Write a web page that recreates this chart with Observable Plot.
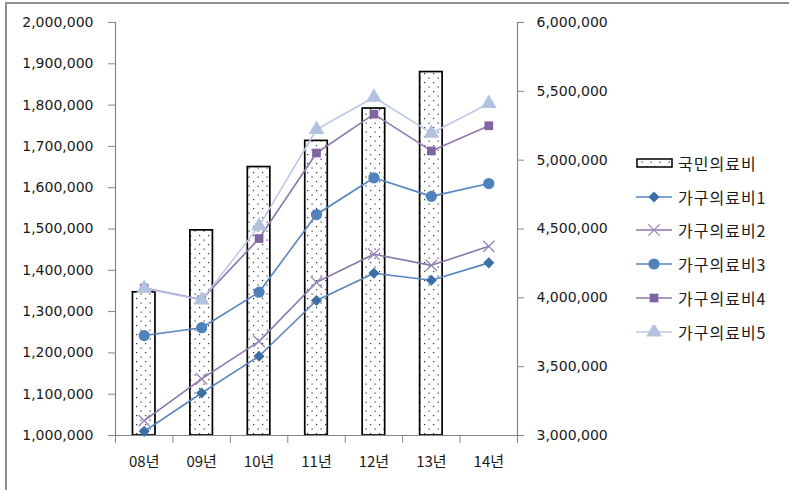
<!DOCTYPE html>
<html>
<head>
<meta charset="utf-8">
<script src="https://cdn.jsdelivr.net/npm/d3@7"></script>
<script src="https://cdn.jsdelivr.net/npm/@observablehq/plot@0.6"></script>
<style>
  html, body { margin: 0; padding: 0; background: #fff; }
  #chart { position: relative; width: 789px; height: 490px; overflow: hidden; }
  #chart > svg { position: absolute; left: 0; top: 0; }
  #frame { position: absolute; left: 5px; top: 2px; right: -4px; bottom: -4px;
           border-top: 2px solid #8f8f8f; border-left: 2px solid #8f8f8f; pointer-events: none; }
  #legend { position: absolute; left: 636px; top: 146px; font-family: "Noto Sans CJK KR", sans-serif;
            font-size: 16px; letter-spacing: 1px; color: #1a1a1a; }
  .item { display: flex; align-items: center; height: 33.8px; }
  .item svg { margin-right: 4px; }
</style>
</head>
<body>
<div id="chart"><div id="frame"></div><div id="legend"></div></div>
<script>
// Years on the category axis
const years = ["08년", "09년", "10년", "11년", "12년", "13년", "14년"];

// 국민의료비 (bars, secondary axis); no bar for 14년
const nationalCost = [4040000, 4490000, 4950000, 5140000, 5375000, 5640000, null];

// 가구의료비 1–5 (lines, primary axis)
const household1 = [1010000, 1103000, 1192000, 1327000, 1393000, 1376000, 1418000];
const household2 = [1036000, 1137000, 1228000, 1371000, 1439000, 1412000, 1458000];
const household3 = [1242000, 1261000, 1347000, 1535000, 1624000, 1579000, 1610000];
const household4 = [1357000, 1329000, 1477000, 1684000, 1778000, 1689000, 1750000];
const household5 = [1356000, 1328000, 1507000, 1741000, 1819000, 1732000, 1804000];

// Axis ticks
const primaryTicks = d3.range(1000000, 2000001, 100000);
const secondaryTicks = d3.range(3000000, 6000001, 500000);

// Primary axis spans 1,000,000–2,000,000, secondary 3,000,000–6,000,000
const toPrimary = v => 1000000 + (v - 3000000) / 3;
const toSecondary = v => 3000000 + (v - 1000000) * 3;

const seriesStyle = [
  {name: "가구의료비1", values: household1, line: "#5584bf", mark: "#3d6ea8", symbol: "diamond2", r: 5.0, hollow: false},
  {name: "가구의료비2", values: household2, line: "#8c77ad", mark: "#9886ba", symbol: "times", r: 5.2, hollow: true},
  {name: "가구의료비3", values: household3, line: "#5585bf", mark: "#4f81bd", symbol: "circle", r: 5.6, hollow: false},
  {name: "가구의료비4", values: household4, line: "#8f78b0", mark: "#8064a2", symbol: "square", r: 4.9, hollow: false},
  {name: "가구의료비5", values: household5, line: "#bccae6", mark: "#b2c2e1", symbol: "triangle", r: 5.8, hollow: false}
];

const barRows = years.map((y, i) => ({i, year: y, value: nationalCost[i]})).filter(d => d.value != null);
const BAR_HALF = 0.196; // half bar width, in category units

const lineMarks = seriesStyle.flatMap(s => {
  const rows = s.values.map((v, i) => ({x: i + 0.5, y: v}));
  return [
    Plot.line(rows, {x: "x", y: "y", stroke: s.line, strokeWidth: 1.6}),
    s.hollow
      ? Plot.dot(rows, {x: "x", y: "y", symbol: s.symbol, r: s.r, stroke: s.mark, strokeWidth: 1.3})
      : Plot.dot(rows, {x: "x", y: "y", symbol: s.symbol, r: s.r, fill: s.mark, stroke: "none"})
  ];
});

const chart = Plot.plot({
  width: 789,
  height: 490,
  marginLeft: 115,
  marginRight: 272,
  marginTop: 22,
  marginBottom: 55,
  style: {fontFamily: "'DejaVu Sans', 'Noto Sans CJK KR', sans-serif", fontSize: "14px", background: "transparent"},
  x: {type: "linear", domain: [0, 7]},
  y: {domain: [1000000, 2000000]},
  marks: [
    Plot.rectY(barRows, {
      x1: d => d.i + 0.5 - BAR_HALF,
      x2: d => d.i + 0.5 + BAR_HALF,
      y1: 1000000,
      y2: d => toPrimary(d.value),
      fill: "url(#dots)",
      stroke: "#000",
      strokeWidth: 1.7
    }),
    Plot.ruleY([1000000], {stroke: "#868686", strokeWidth: 1.2}),
    Plot.ruleX([0, 7], {stroke: "#868686", strokeWidth: 1.2}),
    Plot.axisY({anchor: "left", label: null, ticks: primaryTicks, tickSize: 7, tickPadding: 15,
      tickFormat: d3.format(","), stroke: "#868686", fill: "#1a1a1a"}),
    Plot.axisY({anchor: "right", label: null, ticks: secondaryTicks.map(toPrimary), tickSize: 6, tickPadding: 13,
      tickFormat: v => d3.format(",")(Math.round(toSecondary(v) / 1000) * 1000), stroke: "#868686", fill: "#1a1a1a"}),
    Plot.axisX({label: null, ticks: d3.range(0, 8), tickSize: 8, tickFormat: () => "", stroke: "#868686"}),
    Plot.axisX({label: null, ticks: years.map((_, i) => i + 0.5), tickSize: 0, tickPadding: 21,
      tickFormat: v => years[Math.round(v - 0.5)], fill: "#1a1a1a",
      fontFamily: "'Noto Sans CJK KR', sans-serif", fontSize: 15}),
    ...lineMarks
  ]
});

// Dotted fill used by the bars and their legend swatch
function addDots(svg, id) {
  const p = d3.select(svg).insert("defs", ":first-child")
    .append("pattern").attr("id", id).attr("patternUnits", "userSpaceOnUse")
    .attr("width", 9).attr("height", 9);
  p.append("rect").attr("width", 9).attr("height", 9).attr("fill", "#fff");
  p.append("rect").attr("x", 1).attr("y", 1).attr("width", 1.2).attr("height", 1.2).attr("fill", "#333");
  p.append("rect").attr("x", 5.5).attr("y", 5.5).attr("width", 1.2).attr("height", 1.2).attr("fill", "#333");
}
addDots(chart, "dots");
document.getElementById("chart").prepend(chart);

// Legend
const legend = d3.select("#legend");
const barItem = legend.append("div").attr("class", "item");
const bs = barItem.append("svg").attr("width", 38).attr("height", 14);
addDots(bs.node(), "dotsLegend");
bs.append("rect").attr("x", 1).attr("y", 3).attr("width", 35).attr("height", 8)
  .attr("fill", "url(#dotsLegend)").attr("stroke", "#000").attr("stroke-width", 1.5);
barItem.append("span").text("국민의료비");

const symbolMap = {diamond2: d3.symbolDiamond2, circle: d3.symbolCircle, square: d3.symbolSquare,
                   triangle: d3.symbolTriangle, times: d3.symbolTimes};
seriesStyle.forEach(s => {
  const item = legend.append("div").attr("class", "item");
  const sv = item.append("svg").attr("width", 38).attr("height", 14);
  sv.append("line").attr("x1", 0).attr("x2", 36).attr("y1", 7).attr("y2", 7)
    .attr("stroke", s.line).attr("stroke-width", 1.6);
  const path = sv.append("path").attr("transform", "translate(18,7)")
    .attr("d", d3.symbol(symbolMap[s.symbol], Math.PI * s.r * s.r)());
  if (s.hollow) path.attr("fill", "none").attr("stroke", s.mark).attr("stroke-width", 1.3);
  else path.attr("fill", s.mark);
  item.append("span").text(s.name);
});
</script>
</body>
</html>
